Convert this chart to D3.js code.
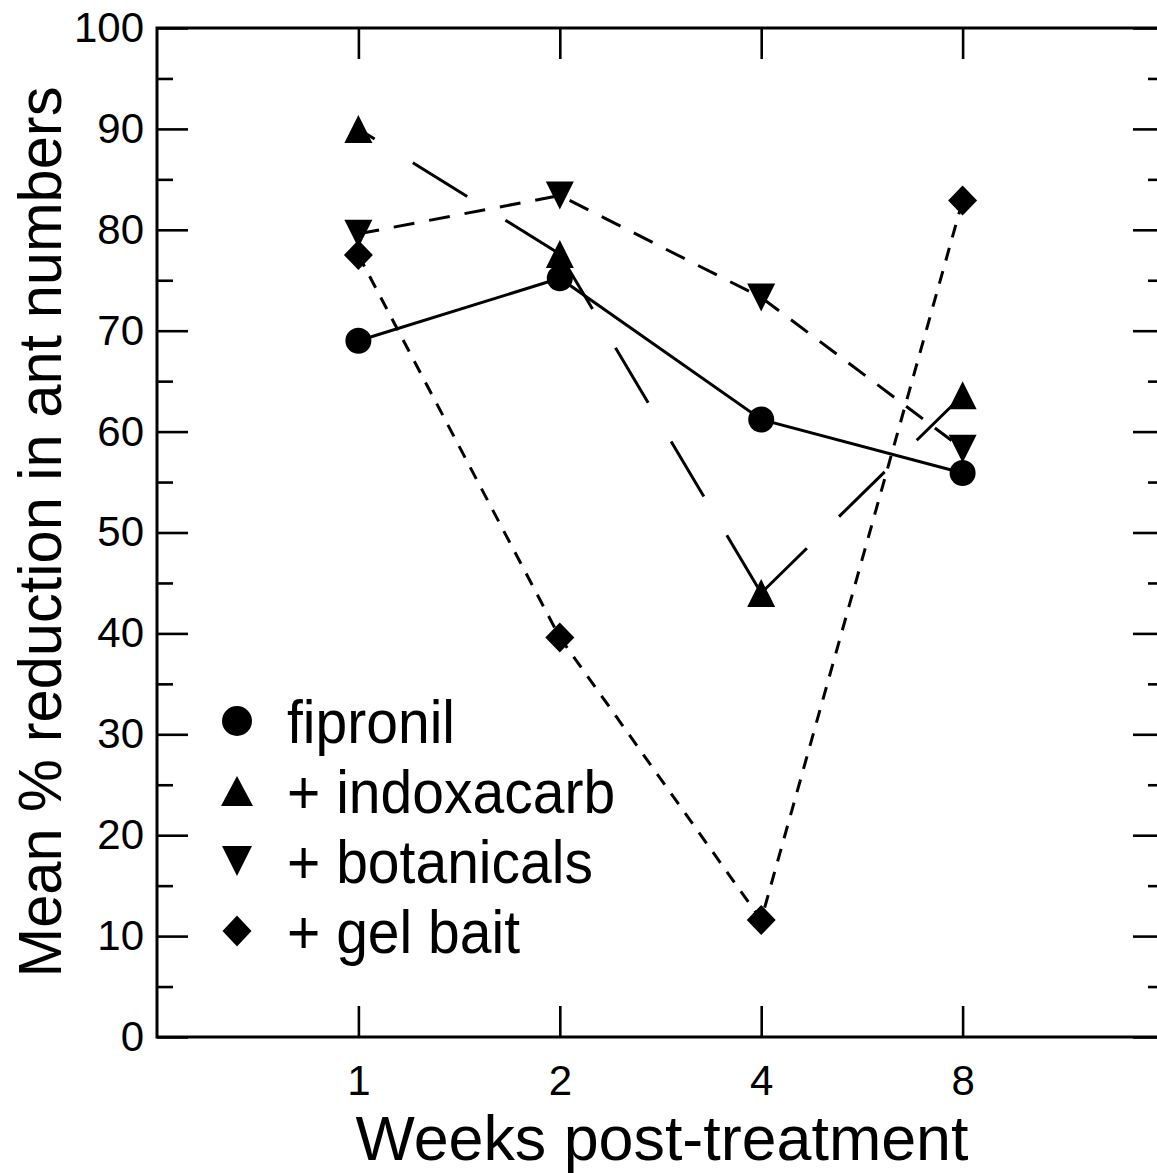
<!DOCTYPE html>
<html><head><meta charset="utf-8">
<script src="https://cdn.jsdelivr.net/npm/d3@7"></script>
<style>body{margin:0;background:#fff}svg{display:block}text{font-family:"Liberation Sans",Arial,sans-serif;fill:#000}</style>
</head><body><svg id="c" width="1157" height="1173"></svg>
<script>
const weeks = ["1","2","4","8"];
const seriesNames = ["fipronil","+ indoxacarb","+ botanicals","+ gel bait"];
const fipronil = [69.0, 75.2, 61.2, 55.9];
const indoxacarb = [90.0, 77.6, 44.0, 63.6];
const botanicals = [79.6, 83.4, 73.3, 58.3];
const gelBait = [77.5, 39.6, 11.6, 82.9];
const yMajorTicks = [0,10,20,30,40,50,60,70,80,90,100];
const yMinorTicks = [5,15,25,35,45,55,65,75,85,95];

const svg = d3.select("#c");
const L=157, R=1164, T=28, B=1037;
const x = d3.scaleLinear().domain([0,5]).range([L,R]);
const y = d3.scaleLinear().domain([0,100]).range([B,T]);
const xi = i => x(i+1);

// marker shapes (w,h = bounding box)
function tri(w,h,down){return {draw(c){const s=down?-1:1;c.moveTo(0,-s*h/2);c.lineTo(w/2,s*h/2);c.lineTo(-w/2,s*h/2);c.closePath();}};}
function diamond(w,h){return {draw(c){c.moveTo(0,-h/2);c.lineTo(w/2,0);c.lineTo(0,h/2);c.lineTo(-w/2,0);c.closePath();}};}
function circ(r){return {draw(c){c.moveTo(r,0);c.arc(0,0,r,0,2*Math.PI);}};}

const styles = [
  {data:fipronil, dash:null, sym:circ(13), lsym:circ(15)},
  {data:indoxacarb, dash:"64,45", sym:tri(28,28,false), lsym:tri(32,30,false), segs:[[1,0],[1,2],[2,3]]},
  {data:botanicals, dash:"21,15", sym:tri(28,28,true), lsym:tri(30,30,true)},
  {data:gelBait, dash:"13,11", sym:diamond(29,30), lsym:diamond(29,31)}
];

// axes
const g = svg.append("g");
g.append("g").attr("transform",`translate(${L},0)`).call(d3.axisLeft(y).tickValues(yMajorTicks).tickSize(-31).tickPadding(13).tickFormat(d3.format("d")));
g.append("g").attr("transform",`translate(${L},0)`).call(d3.axisLeft(y).tickValues(yMinorTicks).tickSize(-16).tickFormat(""));
g.append("g").attr("transform",`translate(${R},0)`).call(d3.axisRight(y).tickValues(yMajorTicks).tickSize(-31).tickFormat(""));
g.append("g").attr("transform",`translate(${R},0)`).call(d3.axisRight(y).tickValues(yMinorTicks).tickSize(-16).tickFormat(""));
const bx = g.append("g").attr("transform",`translate(0,${B})`).call(d3.axisBottom(x).tickValues([1,2,3,4]).tickSize(-31).tickFormat((d,i)=>weeks[i]));
g.append("g").attr("transform",`translate(0,${T})`).call(d3.axisTop(x).tickValues([1,2,3,4]).tickSize(-31).tickFormat(""));
g.selectAll(".domain").remove();
g.selectAll(".tick line").attr("stroke","#000").attr("stroke-width",2.6);
g.selectAll(".tick text").style("font-size","42px").style("font-family","'Liberation Sans',Arial,sans-serif").attr("fill","#000");
bx.selectAll(".tick text").attr("y",58).attr("dy",0);
svg.append("rect").attr("x",L).attr("y",T).attr("width",R-L).attr("height",B-T).attr("fill","none").attr("stroke","#000").attr("stroke-width",3);

// lines
const line = d3.line().x(d=>xi(d.i)).y(d=>y(d.v));
styles.forEach(s=>{
  const pts = s.data.map((v,i)=>({i,v}));
  const segs = s.segs ? s.segs.map(p=>p.map(k=>pts[k])) : [pts];
  segs.forEach(sg=>{
    svg.append("path").datum(sg).attr("d",line).attr("fill","none").attr("stroke","#000").attr("stroke-width",3)
      .attr("stroke-dasharray",s.dash);
  });
});
styles.forEach(s=>{
  svg.append("g").selectAll("path").data(s.data).join("path")
    .attr("d",d3.symbol(s.sym)())
    .attr("transform",(d,i)=>`translate(${xi(i)},${y(d)})`)
    .attr("fill","#000");
});

// legend
const lg = svg.append("g");
styles.forEach((s,i)=>{
  const cy = 721 + i*70;
  lg.append("path").attr("d",d3.symbol(s.lsym)()).attr("transform",`translate(237,${cy})`).attr("fill","#000");
  lg.append("text").attr("transform",`translate(287,${cy+22}) scale(0.92,1)`).style("font-size","62px").text(seriesNames[i]);
});

// titles
svg.append("text").attr("x",662).attr("y",1160).attr("text-anchor","middle").style("font-size","63px")
  .attr("textLength",613).attr("lengthAdjust","spacingAndGlyphs").text("Weeks post-treatment");
svg.append("text").attr("transform","translate(61,532) rotate(-90)").attr("text-anchor","middle").style("font-size","61px")
  .attr("textLength",891).attr("lengthAdjust","spacingAndGlyphs").text("Mean % reduction in ant numbers");
</script></body></html>
